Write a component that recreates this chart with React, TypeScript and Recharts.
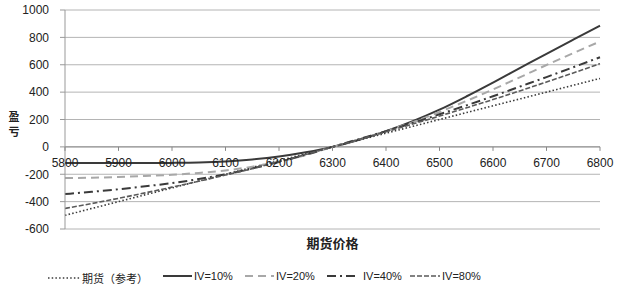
import React from "react"
import { LineChart, Line, XAxis, YAxis, CartesianGrid, Legend, ReferenceLine, Label } from "recharts"

// 期货价格 (每50一个点)
const prices = [5800, 5850, 5900, 5950, 6000, 6050, 6100, 6150, 6200, 6250, 6300, 6350, 6400, 6450, 6500, 6550, 6600, 6650, 6700, 6750, 6800]

const futures = [-500, -450, -400, -350, -300, -250, -200, -150, -100, -50, 0, 50, 100, 150, 200, 250, 300, 350, 400, 450, 500]
const iv10 = [-118, -118, -118, -118, -117, -114, -106, -92, -70, -39, 0, 52, 115, 188, 272, 368, 470, 575, 680, 783, 885]
const iv20 = [-228, -225, -220, -213, -204, -190, -172, -145, -108, -60, 0, 55, 115, 180, 255, 335, 420, 508, 598, 685, 770]
const iv40 = [-345, -328, -310, -288, -265, -235, -200, -158, -110, -57, 0, 57, 115, 175, 238, 303, 370, 440, 510, 582, 655]
const iv80 = [-450, -414, -376, -336, -294, -251, -206, -159, -109, -56, 0, 55, 110, 167, 225, 285, 346, 409, 474, 540, 608]

const xTicks = [5800, 5900, 6000, 6100, 6200, 6300, 6400, 6500, 6600, 6700, 6800]
const yTicks = [-600, -400, -200, 0, 200, 400, 600, 800, 1000]

const data = prices.map((p, i) => ({
  price: p,
  futures: futures[i],
  iv10: iv10[i],
  iv20: iv20[i],
  iv40: iv40[i],
  iv80: iv80[i],
}))

const W = 620
const H = 289
const TOP = 10
const BOTTOM = 60
const PLOT_H = H - TOP - BOTTOM
const Y_MIN = -600
const Y_MAX = 1000
const zeroY = TOP + PLOT_H * (Y_MAX / (Y_MAX - Y_MIN))

const FONT = "'Liberation Sans', Arial, sans-serif"
const CJK = "'Noto Sans CJK SC', sans-serif"

// 图例: 左边位置, 线长
const series = [
  { key: "futures", name: "期货（参考）", color: "#3a3a3a", width: 1.6, dash: "1.5 2.2", left: 48, len: 32 },
  { key: "iv10", name: "IV=10%", color: "#3a3a3a", width: 2, dash: undefined, left: 163, len: 29 },
  { key: "iv20", name: "IV=20%", color: "#a8a8a8", width: 2, dash: "8 5", left: 245, len: 29 },
  { key: "iv40", name: "IV=40%", color: "#3a3a3a", width: 2, dash: "9 4 2 4", left: 327, len: 29 },
  { key: "iv80", name: "IV=80%", color: "#5a5a5a", width: 1.6, dash: "5 2", left: 410, len: 30 },
]

function XTick(props: any) {
  const { x, payload } = props
  return (
    <g>
      <line x1={x} x2={x} y1={zeroY} y2={zeroY + 4} stroke="#888" />
      <text x={x} y={zeroY + 20} textAnchor="middle" fontSize={12} fill="#222" fontFamily={FONT}>
        {payload.value}
      </text>
    </g>
  )
}

function LegendContent() {
  return (
    <div style={{ position: "relative", height: 30, fontSize: 11, color: "#222", fontFamily: FONT }}>
      {series.map((s) => (
        <div key={s.key} style={{ position: "absolute", left: s.left, top: 11, display: "flex", alignItems: "center", whiteSpace: "nowrap" }}>
          <svg width={s.len} height={8} style={{ marginRight: s.key === "iv40" ? 7 : 2 }}>
            <line x1={0} x2={s.len} y1={4} y2={4} stroke={s.color} strokeWidth={s.width} strokeDasharray={s.dash} />
          </svg>
          <span style={{ fontFamily: s.key === "futures" ? CJK : FONT }}>{s.name}</span>
        </div>
      ))}
    </div>
  )
}

export default function App() {
  return (
    <div style={{ position: "absolute", left: 0, top: 0, width: W, height: H }}>
      <LineChart width={W} height={H} data={data} margin={{ top: TOP, right: 20, left: 0, bottom: 0 }}>
        <CartesianGrid vertical={false} stroke="#b4b4b4" />
        <XAxis
          dataKey="price"
          type="number"
          domain={[5800, 6800]}
          ticks={xTicks}
          axisLine={false}
          tickLine={false}
          tick={<XTick />}
          height={30}
          interval={0}
        >
          <Label value="期货价格" position="insideBottom" offset={11} fontSize={13} fontWeight="bold" fill="#222" fontFamily={CJK} />
        </XAxis>
        <YAxis
          type="number"
          domain={[Y_MIN, Y_MAX]}
          ticks={yTicks}
          width={65}
          stroke="#999"
          tickSize={5}
          tickMargin={11}
          tick={{ fontSize: 12, fill: "#222", fontFamily: FONT }}
          interval={0}
        />
        <ReferenceLine y={0} stroke="#8c8c8c" />
        <Legend verticalAlign="bottom" height={30} content={<LegendContent />} />
        {series.map((s) => (
          <Line
            key={s.key}
            type="monotone"
            dataKey={s.key}
            name={s.name}
            stroke={s.color}
            strokeWidth={s.width}
            strokeDasharray={s.dash}
            dot={false}
            isAnimationActive={false}
          />
        ))}
      </LineChart>
      <svg width={28} height={44} style={{ position: "absolute", left: 0, top: 103 }}>
        <text x={14} y={18} textAnchor="middle" fontSize={11} fontWeight="bold" fill="#222" fontFamily={CJK}>盈</text>
        <text x={14} y={33} textAnchor="middle" fontSize={11} fontWeight="bold" fill="#222" fontFamily={CJK}>亏</text>
      </svg>
    </div>
  )
}
